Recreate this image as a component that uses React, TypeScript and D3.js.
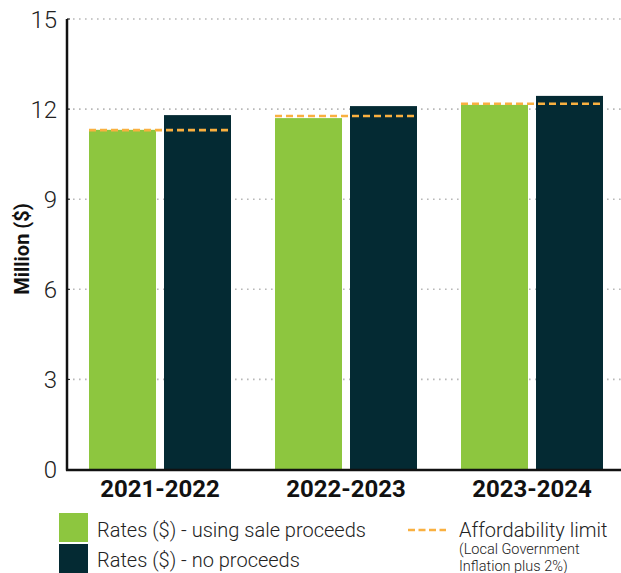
import React from "react";
import * as d3 from "d3";

const categories = ["2021-2022", "2022-2023", "2023-2024"];
const seriesNames = ["Rates ($) - using sale proceeds", "Rates ($) - no proceeds"];
const usingProceeds = [11.31, 11.7, 12.14];
const noProceeds = [11.8, 12.1, 12.44];
const affordabilityLimit = [11.3, 11.77, 12.18];
const yTicks = [0, 3, 6, 9, 12, 15];

const GREEN = "#8DC63F";
const DARK = "#042A33";
const ORANGE = "#F9B040";

export default function App() {
  const W = 621, H = 573;
  const x0 = 67, x1 = 625, yTop = 19, yBot = 469.5;
  const x = d3.scaleBand<string>().domain(categories).range([x0, x1]).paddingInner(0).paddingOuter(0);
  const inner = d3.scaleBand<string>().domain(["a", "b"]).range([22, x.bandwidth() - 22]).paddingInner(0.1067);
  const y = d3.scaleLinear().domain([0, 15]).range([yBot, yTop]);
  const series = [usingProceeds, noProceeds];
  const keys = ["a", "b"];
  const colors = [GREEN, DARK];
  const font = "Roboto, 'Noto Sans', sans-serif";

  return (
    <svg width={W} height={H} style={{ position: "absolute", left: 0, top: 0 }} fontFamily={font}>
      {yTicks.filter((t) => t > 0).map((t) => (
        <line key={t} x1={x0} x2={W} y1={y(t)} y2={y(t)} stroke="#b8b8b8" strokeWidth={1.6} strokeDasharray="1.6 4.4" />
      ))}
      {categories.map((c, i) =>
        series.map((s, j) => (
          <rect key={c + j} x={(x(c) as number) + (inner(keys[j]) as number)} y={y(s[i])} width={inner.bandwidth()} height={yBot - y(s[i])} fill={colors[j]} />
        ))
      )}
      {categories.map((c, i) => (
        <line key={"l" + c} x1={(x(c) as number) + (inner("a") as number)} x2={(x(c) as number) + (inner("b") as number) + inner.bandwidth()} y1={y(affordabilityLimit[i])} y2={y(affordabilityLimit[i])} stroke={ORANGE} strokeWidth={2.6} strokeDasharray="7 4" />
      ))}
      <line x1={x0} x2={x0} y1={yTop} y2={yBot + 1} stroke="#111" strokeWidth={2.5} />
      <line x1={x0 - 1} x2={W} y1={yBot + 0.5} y2={yBot + 0.5} stroke="#111" strokeWidth={2.5} />
      {yTicks.map((t) => (
        <g key={"t" + t}>
          <line x1={x0} x2={x0 + 3} y1={y(t)} y2={y(t)} stroke="#111" strokeWidth={1} />
          <text x={57} y={y(t)} dy="0.36em" textAnchor="end" fontSize={24} fontWeight={300} fill="#222">{t}</text>
        </g>
      ))}
      <text transform={`translate(29,249) rotate(-90)`} textAnchor="middle" fontSize={20} fontWeight={700} fill="#111">Million ($)</text>
      {categories.map((c) => (
        <text key={"x" + c} x={(x(c) as number) + x.bandwidth() / 2} y={497} textAnchor="middle" fontSize={24} fontWeight={700} fill="#111">{c}</text>
      ))}
      <rect x={59} y={513} width={29} height={29} fill={GREEN} />
      <rect x={59} y={544} width={29} height={29} fill={DARK} />
      <text x={97} y={537} fontSize={20} fontWeight={300} fill="#222">{seriesNames[0]}</text>
      <text x={97} y={567} fontSize={20} fontWeight={300} fill="#222">{seriesNames[1]}</text>
      <line x1={408} x2={446} y1={530} y2={530} stroke={ORANGE} strokeWidth={2.6} strokeDasharray="7 3.5" />
      <text x={459} y={537} fontSize={20} fontWeight={300} fill="#222">Affordability limit</text>
      <text x={459} y={554} fontSize={14.5} fontWeight={300} fill="#222">(Local Government</text>
      <text x={459} y={571} fontSize={14.5} fontWeight={300} fill="#222">Inflation plus 2%)</text>
    </svg>
  );
}
